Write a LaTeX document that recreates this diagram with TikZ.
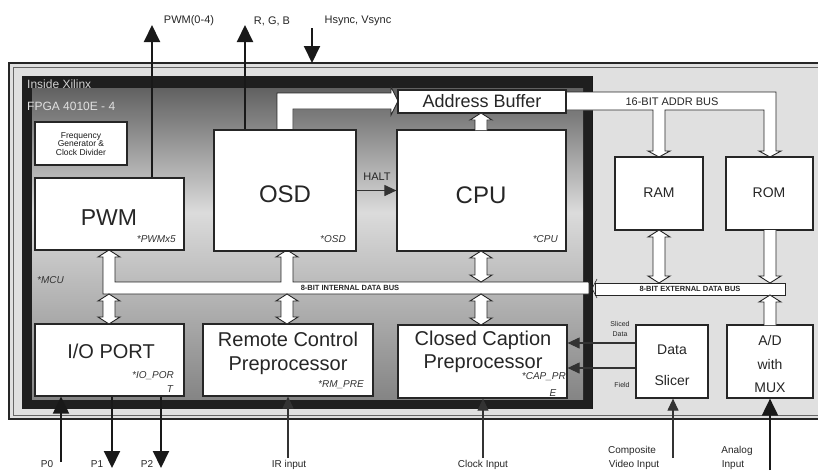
\documentclass[tikz,border=0pt]{standalone}
\usepackage{fontspec}
\setmainfont{Liberation Sans}
\usetikzlibrary{arrows.meta}
\newcommand{\fsz}[1]{\fontsize{#1}{#1}\selectfont}
\pgfdeclareverticalshading{fpgashade}{100bp}{color(0bp)=(black!48); color(25bp)=(black!48); color(55bp)=(black!14); color(75bp)=(black!62); color(100bp)=(black!62)}
% hollow bus arrows: centre x, top y, bottom y (y grows downwards)
\newcommand{\HArrDbl}[3]{\filldraw[hbus] (#1,#2) -- (#1+11,#2+7) -- (#1+6,#2+7) -- (#1+6,#3-7) -- (#1+11,#3-7) -- (#1,#3) -- (#1-11,#3-7) -- (#1-6,#3-7) -- (#1-6,#2+7) -- (#1-11,#2+7) -- cycle;}
\newcommand{\HArrUp}[3]{\fill[white] (#1,#2) -- (#1+11,#2+7) -- (#1+6,#2+7) -- (#1+6,#3) -- (#1-6,#3) -- (#1-6,#2+7) -- (#1-11,#2+7) -- cycle;
 \draw[hbus] (#1+6,#3) -- (#1+6,#2+7) -- (#1+11,#2+7) -- (#1,#2) -- (#1-11,#2+7) -- (#1-6,#2+7) -- (#1-6,#3);}
\newcommand{\HArrDown}[3]{\fill[white] (#1,#3) -- (#1+11,#3-7) -- (#1+6,#3-7) -- (#1+6,#2) -- (#1-6,#2) -- (#1-6,#3-7) -- (#1-11,#3-7) -- cycle;
 \draw[hbus] (#1+6,#2) -- (#1+6,#3-7) -- (#1+11,#3-7) -- (#1,#3) -- (#1-11,#3-7) -- (#1-6,#3-7) -- (#1-6,#2);}
\begin{document}
\begin{tikzpicture}[x=1pt,y=-1pt,
  box/.style={draw=black!85,line width=1.2pt,fill=white,inner sep=0pt},
  hbus/.style={draw=black!85,line width=0.9pt,fill=white},
  txt/.style={inner sep=0pt,text=black!85,align=center},
  note/.style={inner sep=0pt,text=black!80,font=\fsz{10}\itshape},
  sigarrow/.style={draw=black!90,line width=2pt,-{Triangle[width=16pt,length=17pt]}},
  thinsig/.style={draw=black!80,line width=1.1pt,-{Triangle[width=11pt,length=12pt]}}]
\useasboundingbox (0,0) rectangle (818,472);
\fill[white] (0,0) rectangle (818,472);
% board
\fill[black!12] (9,63) rectangle (818,419);
\draw[black!85,line width=1.2pt] (818,63) -- (9,63) -- (9,419) -- (818,419);
\draw[black!60,line width=0.5pt] (818,67) -- (13,67) -- (13,415) -- (818,415);
% FPGA region
\fill[black!88] (22,76) rectangle (592,409);
\shade[shading=fpgashade] (32,88) rectangle (583,399);
\draw[black!90,line width=1pt] (592,76) -- (592,409);
\node[inner sep=0pt,anchor=west,text=black!18,font=\fsz{12}] (insx) at (27,84) {Inside Xilinx};
\node[inner sep=0pt,anchor=west,text=black!12,font=\fsz{12}] (fpga) at (27,106) {FPGA 4010E - 4};
% OSD -> Address buffer hollow bus
\fill[white] (293,130) -- (293,109) -- (391,109) -- (391,115) -- (398,101) -- (391,87) -- (391,93) -- (277,93) -- (277,130) -- cycle;
\draw[hbus] (293,130) -- (293,109) -- (391,109) -- (391,115) -- (398,101) -- (391,87) -- (391,93) -- (277,93) -- (277,130);
% 16-bit address bus
\fill[white] (566,92) -- (776,92) -- (776,151) -- (781,151) -- (770,157) -- (759,151) -- (764,151) -- (764,110) -- (665,110) -- (665,151) -- (670,151) -- (659,157) -- (648,151) -- (653,151) -- (653,110) -- (566,110) -- cycle;
\draw[hbus] (566,92) -- (776,92) -- (776,151) -- (781,151) -- (770,157) -- (759,151) -- (764,151) -- (764,110) -- (665,110) -- (665,151) -- (670,151) -- (659,157) -- (648,151) -- (653,151) -- (653,110) -- (566,110);
% internal data bus with PWM and OSD branches
\filldraw[hbus] (589,282) -- (293,282) -- (293,257) -- (298,257) -- (287,250) -- (276,257) -- (281,257) -- (281,282) -- (115,282) -- (115,257) -- (120,257) -- (109,250) -- (98,257) -- (103,257) -- (103,294) -- (589,294) -- cycle;
% external data bus
\filldraw[hbus] (595,283) rectangle (785,295);
\draw[black!85,line width=0.6pt] (587,279) -- (597,298) (597,279) -- (587,298);
% boxes
\node[box,minimum width=92pt,minimum height=43pt] (freq) at (81,143.5) {};
\node[box,minimum width=149pt,minimum height=72pt] (pwm) at (109.5,214) {};
\node[box,minimum width=142pt,minimum height=121pt] (osd) at (285,190.5) {};
\node[box,minimum width=169pt,minimum height=121pt] (cpu) at (481.5,190.5) {};
\node[box,minimum width=168pt,minimum height=23pt] (addr) at (482,101.5) {};
\node[box,minimum width=88pt,minimum height=73pt] (ram) at (659,193.5) {};
\node[box,minimum width=87pt,minimum height=73pt] (rom) at (769.5,193.5) {};
\node[box,minimum width=149pt,minimum height=72pt] (io) at (109.5,360) {};
\node[box,minimum width=170pt,minimum height=72pt] (rc) at (288,360) {};
\node[box,minimum width=169pt,minimum height=73pt] (cc) at (482.5,361.5) {};
\node[box,minimum width=72pt,minimum height=73pt] (ds) at (672,361.5) {};
\node[box,minimum width=86pt,minimum height=73pt] (ad) at (770,361.5) {};
% hollow data arrows
\HArrUp{481}{113}{130}
\HArrDbl{481}{251}{282}
\HArrDbl{109}{294}{324}
\HArrDbl{287}{294}{324}
\HArrDbl{481}{294}{325}
\HArrDbl{659}{230}{283}
\HArrDown{770}{230}{283}
\HArrUp{770}{295}{325}
% texts
\node[txt,font=\fsz{8.5},text=black!90] (freqT) at (81,144) {\fontsize{8.5}{16}\selectfont Frequency\\Generator \&\\Clock Divider};
\node[txt,font=\fsz{23}] (pwmT) at (109,218) {PWM};
\node[note,anchor=east] (pwmN) at (176,239) {*PWMx5};
\node[txt,font=\fsz{24}] (osdT) at (285,194) {OSD};
\node[note,anchor=east] (osdN) at (346,239) {*OSD};
\node[txt,font=\fsz{24}] (cpuT) at (481,195) {CPU};
\node[note,anchor=east] (cpuN) at (558,239) {*CPU};
\node[txt,font=\fsz{18}] (addrT) at (482,101.5) {Address Buffer};
\node[txt,font=\fsz{11}] (abus) at (672,101.5) {16-BIT ADDR BUS};
\node[txt,font=\fsz{14}] (ramT) at (659,193) {RAM};
\node[txt,font=\fsz{14}] (romT) at (769,193) {ROM};
\node[note,anchor=west] (mcu) at (37,280) {*MCU};
\node[txt,font=\fsz{7.5}\bfseries] (ibus) at (350,288) {8-BIT INTERNAL DATA BUS};
\node[txt,font=\fsz{7.5}\bfseries] (ebus) at (690,289) {8-BIT EXTERNAL DATA BUS};
\node[txt,font=\fsz{20}] (ioT) at (111,351) {I/O PORT};
\node[note,anchor=east] (ioN) at (174,376) {*IO\_POR};
\node[note] (ioN2) at (170,389) {T};
\node[txt,font=\fsz{20}] (rcT1) at (288,339) {Remote Control};
\node[txt,font=\fsz{20}] (rcT2) at (288,366) {Preprocessor};
\node[note,anchor=east] (rcN) at (364,385) {*RM\_PRE};
\node[txt,font=\fsz{20}] (ccT1) at (483,340) {Closed Caption};
\node[txt,font=\fsz{20}] (ccT2) at (483,364) {Preprocessor};
\node[note,anchor=east] (ccN) at (566,377) {*CAP\_PR};
\node[note] (ccN2) at (553,393) {E};
\node[txt,font=\fsz{14}] (dsT1) at (672,350) {Data};
\node[txt,font=\fsz{14}] (dsT2) at (672,380) {Slicer};
\node[txt,font=\fsz{14}] (adT1) at (770,340) {A/D};
\node[txt,font=\fsz{14}] (adT2) at (770,364) {with};
\node[txt,font=\fsz{14}] (adT3) at (770,388) {MUX};
\node[txt,font=\fsz{7}] (sl1) at (620,324) {Sliced};
\node[txt,font=\fsz{7}] (sl2) at (620,334) {Data};
\node[txt,font=\fsz{7}] (fld) at (622,385) {Field};
\node[txt,font=\fsz{11}] (halt) at (377,177) {HALT};
% top signals
\node[txt,font=\fsz{11}] (pwmL) at (189,21) {PWM(0-4)};
\node[txt,font=\fsz{11}] (rgbL) at (272,21) {R, G, B};
\node[txt,font=\fsz{11}] (hsL) at (358,21) {Hsync, Vsync};
\coordinate (pwmo) at (152,25);
\coordinate (rgbo) at (245,25);
\coordinate (hsi) at (312,28);
\coordinate (boardtop) at (312,63);
\draw[sigarrow] (pwm.north -| pwmo) -- (pwmo);
\draw[sigarrow] (osd.north -| rgbo) -- (rgbo);
\draw[sigarrow] (hsi) -- (boardtop);
\draw[thinsig] (osd.east) -- (cpu.west);
\draw[thinsig] (ds.west |- 0,343) -- (cc.east |- 0,343);
\draw[thinsig] (ds.west |- 0,368) -- (cc.east |- 0,368);
% bottom signals
\node[txt,font=\fsz{10}] (p0L) at (47,464) {P0};
\node[txt,font=\fsz{10}] (p1L) at (97,464) {P1};
\node[txt,font=\fsz{10}] (p2L) at (147,464) {P2};
\node[txt,font=\fsz{10}] (irL) at (289,465) {IR input};
\node[txt,font=\fsz{10}] (clkL) at (483,465) {Clock Input};
\node[txt,font=\fsz{10}] (cvL1) at (632,451) {Composite};
\node[txt,font=\fsz{10}] (cvL2) at (634,465) {Video Input};
\node[txt,font=\fsz{10}] (anL1) at (737,451) {Analog};
\node[txt,font=\fsz{10}] (anL2) at (733,465) {Input};
\coordinate (p0a) at (61,462);
\coordinate (p1a) at (112,468);
\coordinate (p2a) at (161,468);
\coordinate (ira) at (288,458);
\coordinate (clka) at (483,458);
\coordinate (cva) at (673,458);
\coordinate (ana) at (770,470);
\draw[sigarrow] (p0a) -- (p0a |- io.south);
\draw[sigarrow] (io.south -| p1a) -- (p1a);
\draw[sigarrow] (io.south -| p2a) -- (p2a);
\draw[thinsig] (ira) -- (ira |- rc.south);
\draw[thinsig] (clka) -- (clka |- cc.south);
\draw[thinsig] (cva) -- (cva |- ds.south);
\draw[sigarrow] (ana) -- (ana |- ad.south);
\end{tikzpicture}
\end{document}
